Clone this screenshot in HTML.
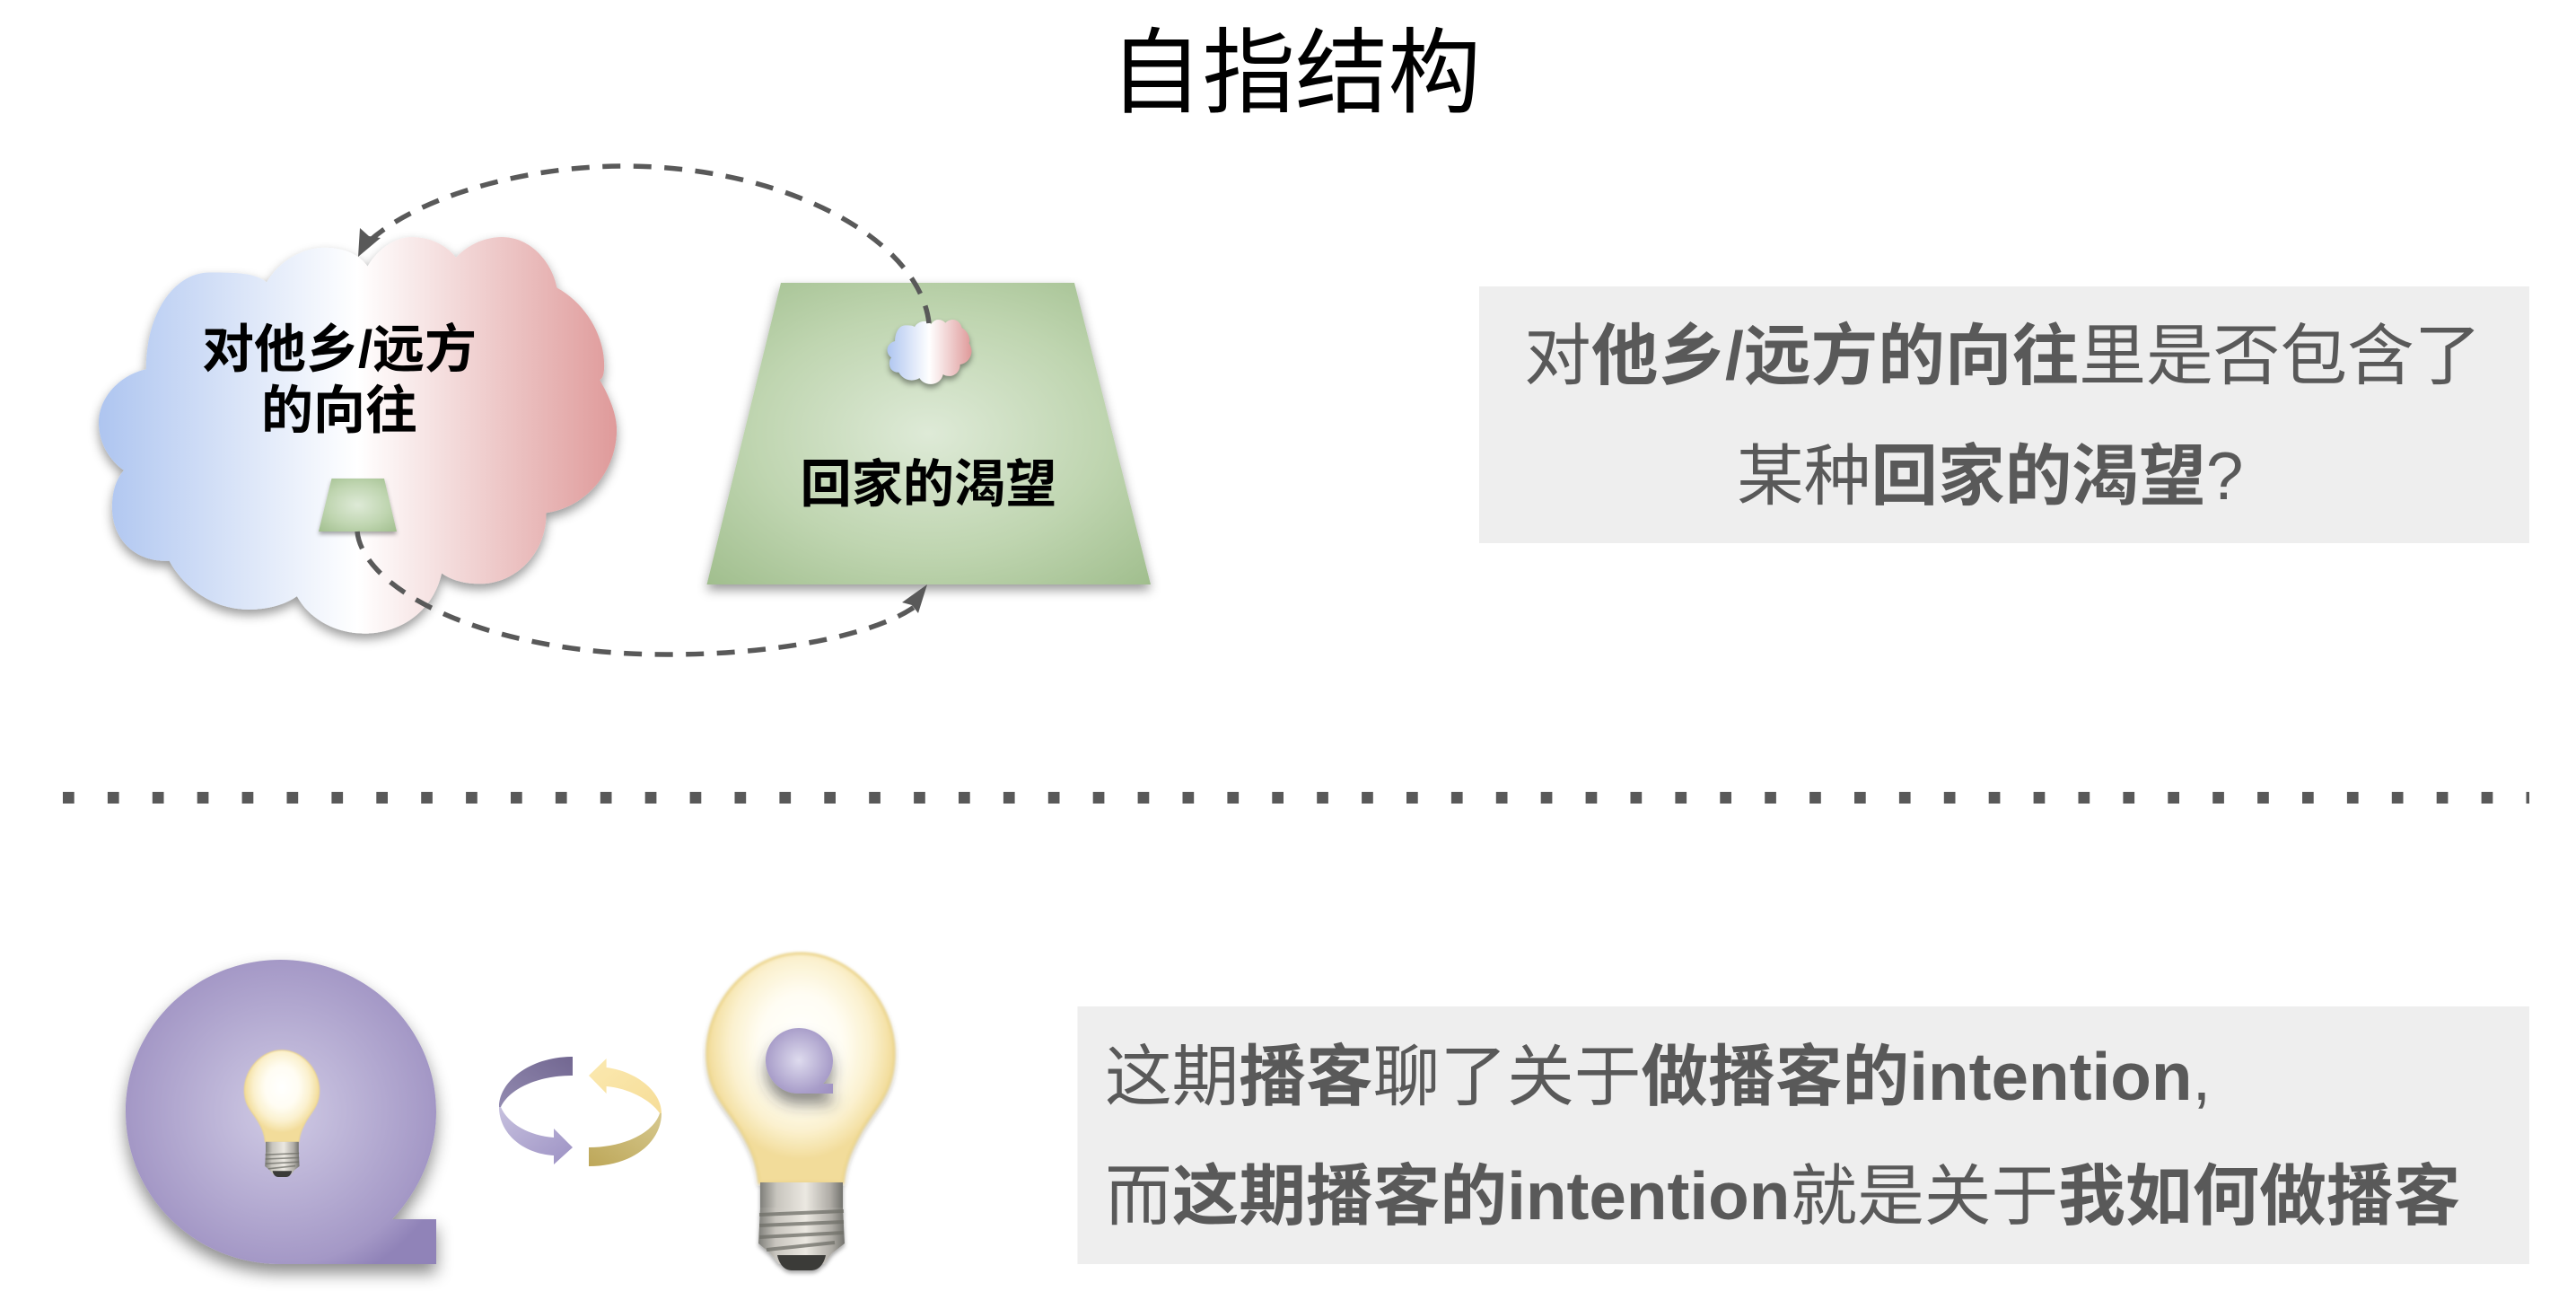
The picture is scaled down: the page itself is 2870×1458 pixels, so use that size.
<!DOCTYPE html>
<html lang="zh"><head><meta charset="utf-8"><title>自指结构</title>
<style>
html,body{margin:0;padding:0;background:#fff;width:2870px;height:1458px;overflow:hidden}
svg{display:block}
text{font-family:"Liberation Sans","Noto Sans CJK SC",sans-serif}
.g{font-size:74.7px;fill:#595959}
.b{font-weight:700}
</style></head><body>
<svg width="2870" height="1458" viewBox="0 0 2870 1458" xmlns="http://www.w3.org/2000/svg">
<defs>
<filter id="s1" x="-20%" y="-20%" width="140%" height="140%"><feDropShadow dx="0" dy="6" stdDeviation="6" flood-color="#000" flood-opacity=".4"/></filter>
<filter id="s2" x="-20%" y="-20%" width="140%" height="140%"><feDropShadow dx="0" dy="10" stdDeviation="9" flood-color="#000" flood-opacity=".45"/></filter>
<filter id="s3" x="-40%" y="-40%" width="180%" height="180%"><feDropShadow dx="0" dy="12" stdDeviation="8" flood-color="#333" flood-opacity=".55"/></filter>
<filter id="s4" x="-30%" y="-30%" width="160%" height="160%"><feDropShadow dx="0" dy="3" stdDeviation="2.5" flood-color="#000" flood-opacity=".35"/></filter>
<filter id="bl" x="-10%" y="-10%" width="120%" height="120%"><feGaussianBlur stdDeviation="1.2"/></filter>
<linearGradient id="cl"><stop offset="0" stop-color="#aec5f0"/><stop offset=".5" stop-color="#fff"/><stop offset="1" stop-color="#df9a9a"/></linearGradient>
<radialGradient id="tr" cx=".5" cy=".5" r=".72"><stop offset="0" stop-color="#deead7"/><stop offset=".55" stop-color="#bfd5b0"/><stop offset="1" stop-color="#9fbd8c"/></radialGradient>
<radialGradient id="q" gradientUnits="userSpaceOnUse" cx="312.5" cy="1238" r="200"><stop offset="0" stop-color="#d0cbe5"/><stop offset=".85" stop-color="#a498c6"/><stop offset="1" stop-color="#9083b8"/></radialGradient>
<radialGradient id="q2" gradientUnits="userSpaceOnUse" cx="890" cy="1181" r="46"><stop offset="0" stop-color="#dedbee"/><stop offset=".8" stop-color="#a89dc9"/><stop offset="1" stop-color="#a194c4"/></radialGradient>
<radialGradient id="gl" cx=".5" cy=".4" r=".5"><stop offset="0" stop-color="#fff"/><stop offset=".45" stop-color="#fffdf3"/><stop offset=".75" stop-color="#fbf1cf"/><stop offset="1" stop-color="#f2dc9a"/></radialGradient>
<linearGradient id="mt"><stop offset="0" stop-color="#7f7f7a"/><stop offset=".2" stop-color="#c8c5be"/><stop offset=".55" stop-color="#ebe8e1"/><stop offset=".85" stop-color="#aeaba5"/><stop offset="1" stop-color="#72726d"/></linearGradient>
<linearGradient id="pd" x1="0" y1="1" x2="1" y2="0"><stop offset="0" stop-color="#928ab0"/><stop offset="1" stop-color="#726791"/></linearGradient>
<linearGradient id="pl" x1="0" y1="0" x2="1" y2="1"><stop offset="0" stop-color="#c6c0de"/><stop offset="1" stop-color="#9d92c4"/></linearGradient>
<linearGradient id="yl" x1="0" y1="0" x2="1" y2="1"><stop offset="0" stop-color="#fbe9b0"/><stop offset="1" stop-color="#f6dd98"/></linearGradient>
<linearGradient id="yd" x1="1" y1="0" x2="0" y2="1"><stop offset="0" stop-color="#d6c88e"/><stop offset="1" stop-color="#bda759"/></linearGradient>
<path id="cloud" d="M411,298 C425,275 445,265 460,265 C482,265 500,275 510,288 C525,272 545,265 561,265 C595,265 618,295 623,322 C655,340 676,375 676,410 C676,420 674,425 671,426 C682,445 690,465 690,482 C690,530 655,570 611,576 C612,620 578,656 537,656 C520,656 505,652 494,644 C485,685 450,712 407,712 C375,712 345,695 332,670 C318,680 298,685 278,685 C238,685 205,660 189,630 C150,632 125,605 125,570 C125,550 130,538 138,528 C120,515 110,495 110,474 C110,445 135,420 163,414 C163,350 195,305 234,305 C262,305 285,305 298,316 C312,292 338,277 363,277 C385,277 402,285 411,298Z"/>
<g id="bulb">
<path d="M892,1062 C837,1062 788,1115 788,1173 C788,1215 808,1230 825,1258 C838,1280 844,1295 846,1317 L939,1317 C941,1295 948,1280 960,1258 C977,1230 996,1215 996,1173 C996,1115 947,1062 892,1062Z" fill="url(#gl)" stroke="#eed78f" stroke-width="3" filter="url(#bl)"/>
<rect x="847" y="1317" width="92" height="34" fill="url(#mt)"/>
<path d="M847,1345 L939,1345 L941,1385 L927,1396 L918,1408 L868,1408 L858,1396 L845,1385Z" fill="url(#mt)"/>
<g stroke="#6f6f68" stroke-width="4" fill="none" opacity=".75"><path d="M846,1353 L940,1349"/><path d="M846,1365 L940,1361"/><path d="M846,1378 L940,1373"/><path d="M854,1392 L930,1384"/></g>
<path d="M866,1398 L920,1398 C918,1408 912,1415 904,1415 L882,1415 C874,1415 868,1408 866,1398Z" fill="#3a3a38"/>
</g>
</defs>

<text x="1236" y="117" font-size="103.5" fill="#000">自指结构</text>

<!-- cloud -->
<use href="#cloud" fill="url(#cl)" filter="url(#s1)" transform="translate(110,264) scale(.995,.988) translate(-110,-265)"/>
<g font-size="58" font-weight="700" fill="#000" text-anchor="middle">
<text x="378" y="409">对他乡/远方</text>
<text x="378" y="477">的向往</text>
</g>
<path d="M369.5,533 L428,533 L442,592 L355,592Z" fill="url(#tr)" filter="url(#s4)"/>

<!-- trapezoid -->
<path d="M870,315 L1197,315 L1282,651 L787.5,651Z" fill="url(#tr)" filter="url(#s1)"/>
<text x="1034.5" y="559" font-size="57.2" font-weight="700" fill="#000" text-anchor="middle">回家的渴望</text>
<g transform="translate(970.7,313.3) scale(.162,.161)"><use href="#cloud" fill="url(#cl)" style="filter:drop-shadow(0 25px 20px rgba(0,0,0,.4))"/></g>

<!-- arrows -->
<g fill="none" stroke="#595959" stroke-width="5.5" stroke-dasharray="20 14.5">
<path d="M1035,360 C1025,268 877,185 695,185 C587,185 468,218 412,268"/>
<path d="M398,592 C404,655 537,729 743,729 C876,729 985,704 1024,672"/>
</g>
<path d="M399,286 L401,254 L411,263 L424,265Z" fill="#595959"/>
<path d="M1033,651 L1005,671 L1016,674 L1023,683Z" fill="#595959"/>

<!-- divider -->
<path d="M70,888.5 L2818,888.5" stroke="#595959" stroke-width="13" stroke-dasharray="12.7 37.2" fill="none"/>

<!-- text boxes -->
<rect x="1648" y="319" width="1170" height="286" fill="#eee"/>
<rect x="1200.5" y="1121" width="1617.5" height="287" fill="#eee"/>
<text class="g" x="1698" y="422">对<tspan class="b">他乡/远方的向往</tspan>里是否包含了</text>
<text class="g" x="1935" y="556">某种<tspan class="b">回家的渴望</tspan>?</text>
<text class="g" x="1231" y="1225">这期<tspan class="b">播客</tspan>聊了关于<tspan class="b">做播客的intention</tspan>,</text>
<text class="g" x="1231" y="1358">而<tspan class="b">这期播客的intention</tspan>就是关于<tspan class="b">我如何做播客</tspan></text>

<!-- Q -->
<path d="M312.5,1069 C408,1069 486,1145 486,1238 C486,1283 468,1325 437,1358 L486,1358 L486,1408 L312.5,1408 C217,1408 140,1332 140,1238 C140,1145 217,1069 312.5,1069Z" fill="url(#q)" filter="url(#s2)"/>
<g transform="translate(-42.8,745) scale(.4)"><use href="#bulb"/></g>

<!-- cycle arrows -->
<path d="M638,1177 C590,1177 556,1205 556,1233 L558,1233 C568,1212 600,1198 638,1198Z" fill="url(#pd)"/>
<path d="M556,1233 C556,1262 582,1285 617,1287 L617,1297 L638,1278 L617,1257 L617,1267 C590,1265 566,1252 558,1233Z" fill="url(#pl)"/>
<path d="M656,1198 L675.6,1179 L675.6,1189 C708,1193 737,1215 737,1240 L735,1240 C725,1225 700,1212 675.6,1210 L675.6,1218Z" fill="url(#yl)"/>
<path d="M737,1240 C737,1272 705,1299 656,1299 L656,1278 C695,1278 728,1262 735,1240Z" fill="url(#yd)"/>

<!-- big bulb -->
<g filter="url(#s4)"><use href="#bulb"/></g>
<path d="M890,1145 C911,1145 928,1162 928,1181 C928,1192 924,1200 917,1207 L928,1207 L928,1218 L890,1218 C868,1218 853,1200 853,1181 C853,1162 869,1145 890,1145Z" fill="url(#q2)" filter="url(#s3)"/>
</svg>
</body></html>
